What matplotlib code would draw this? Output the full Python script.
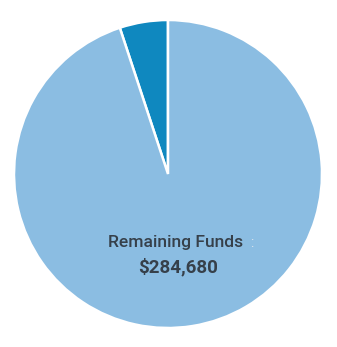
import matplotlib
matplotlib.use("Agg")
import matplotlib.pyplot as plt

labels = ["Spent", "Remaining Funds"]
values = [15200, 284680]
colors = ["#0f88bf", "#8bbde2"]

fig = plt.figure(figsize=(3.37, 3.47), dpi=100)
ax = fig.add_axes([14/337, 19/347, 308/337, 308/347])
ax.pie(values, colors=colors, startangle=90, counterclock=True,
       wedgeprops=dict(edgecolor="white", linewidth=1.8))
ax.set_xlim(-1, 1)
ax.set_ylim(-1, 1)
ax.set_aspect("auto")
ax.axis("off")

ax.text(0.05, -0.445, labels[1], ha="center", va="center", fontsize=12.6,
        fontweight="medium", family="Roboto", color="#36404a")
ax.text(0.545, -0.45, ":", ha="center", va="center", fontsize=10,
        family="Roboto", color="#dbe4ec")
ax.text(0.065, -0.605, f"${values[1]:,}", ha="center", va="center", fontsize=13.5,
        fontweight="bold", family="Roboto", color="#36404a")

fig.savefig("out.png", dpi=100)
